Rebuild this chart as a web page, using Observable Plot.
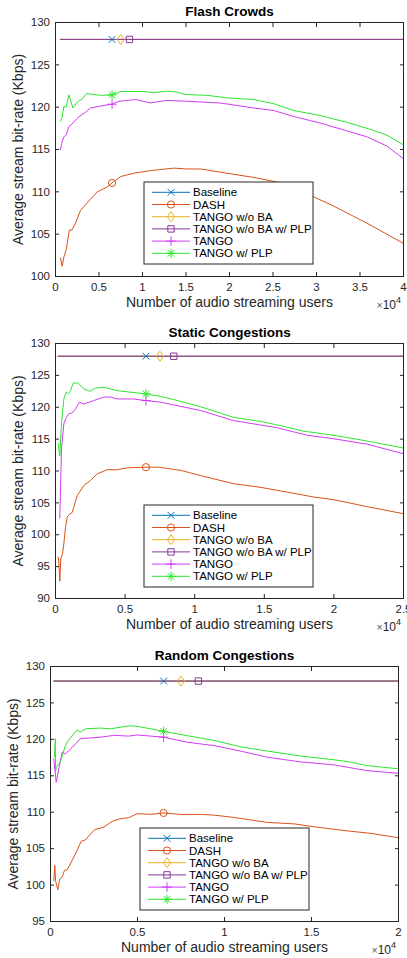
<!DOCTYPE html>
<html><head><meta charset="utf-8">
<script src="https://cdn.jsdelivr.net/npm/d3@7"></script>
<script src="https://cdn.jsdelivr.net/npm/@observablehq/plot@0.6"></script>
<style>
body{margin:0;background:#fff;font-family:"Liberation Sans",Arial,Helvetica,sans-serif}
#wrap{position:relative;width:407px;height:958px;overflow:hidden}
.panel{position:absolute;left:0}
</style>
</head><body><div id="wrap"></div>
<script>
// ---- series definitions ----
const seriesNames = ["Baseline","DASH","TANGO w/o BA","TANGO w/o BA w/ PLP","TANGO","TANGO w/ PLP"];
const seriesColors = ["#0072BD","#D95319","#EDB120","#86399A","#D23CF5","#2EE62E"];

// ---- Flash Crowds (x = users, y = Kbps) ----
const fcFlat = [[570,128],[40000,128]];
const fcDash = [[570,102.2],[770,101.2],[960,102.3],[1230,103.15],[1600,105.5],[1900,105.5],[2300,106.3],[2870,107.8],[3600,108.65],[4800,110.0],[5900,110.55],[6500,111.05],[7470,111.8],[9000,112.2],[10900,112.5],[13600,112.8],[15100,112.7],[16700,112.7],[19700,112.2],[22800,111.7],[25500,111.15],[29700,109.4],[32000,108.3],[35800,106.3],[40000,103.9]];
const fcTango = [[570,115.0],[700,115.7],[960,116.5],[1230,116.7],[1530,117.7],[1900,118.0],[2600,118.8],[3450,119.4],[4000,119.9],[5000,120.1],[6500,120.35],[7300,120.7],[9200,120.9],[10900,120.5],[12800,120.8],[15100,120.7],[18900,120.5],[22800,119.9],[25100,119.6],[27400,118.9],[30500,118.1],[33500,117.2],[35800,116.5],[38100,115.4],[40000,113.9]];
const fcPlp = [[570,118.35],[770,118.8],[960,120.1],[1230,120.0],[1530,121.45],[2000,119.9],[2500,120.6],[3100,121.0],[3560,121.6],[5170,121.4],[6500,121.45],[7470,121.85],[10150,121.85],[11300,121.7],[12800,121.9],[13900,121.8],[14900,121.5],[17400,121.4],[19700,121.1],[22800,120.9],[25100,120.4],[27400,119.6],[30500,119.0],[33500,118.2],[35800,117.5],[38100,116.7],[40000,115.55]];
const fcMarkers = [[0,6500,128],[1,6500,111.05],[2,7500,128],[3,8500,128],[4,6500,120.35],[5,6500,121.45]];

// ---- Static Congestions ----
const scFlat = [[190,128],[25000,128]];
const scDash = [[190,96.5],[240,95.7],[310,92.7],[380,96.2],[500,97.0],[600,98.6],[720,101.2],[840,102.75],[1000,103.2],[1200,103.5],[1560,106.15],[2030,107.7],[2500,108.5],[3000,109.55],[3700,110.2],[4430,110.2],[5150,110.5],[6500,110.6],[7400,110.6],[9000,110.1],[10400,109.3],[12800,108.0],[14700,107.45],[16600,106.7],[18600,105.9],[20000,105.5],[22400,104.4],[25000,103.3]];
const scTango = [[310,102.6],[430,113.5],[600,117.4],[770,118.4],[960,119.0],[1200,119.1],[1440,119.75],[1720,120.8],[2030,120.5],[2750,121.05],[3470,121.6],[3950,121.6],[4430,121.3],[5600,121.3],[6500,121.05],[7540,120.8],[10400,119.5],[12800,117.9],[15900,116.8],[18100,115.6],[20000,115.05],[22400,114.2],[25000,112.7]];
const scPlp = [[190,114.3],[310,112.4],[430,117.4],[600,121.3],[770,122.4],[910,122.1],[1080,122.6],[1270,123.8],[1600,123.8],[2030,122.9],[2460,122.5],[2870,123.0],[3470,123.15],[4430,122.6],[6500,122.1],[7540,121.7],[8500,121.2],[10400,120.1],[12800,118.4],[14700,117.8],[16400,117.0],[17800,116.25],[20000,115.6],[22400,114.7],[25000,113.6]];
const scMarkers = [[0,6500,128],[1,6500,110.6],[2,7500,128],[3,8500,128],[4,6500,121.05],[5,6500,122.1]];

// ---- Random Congestions ----
const rcFlat = [[190,128],[20000,128]];
const rcDash = [[190,100.6],[250,102.7],[290,100.6],[420,99.35],[530,100.85],[670,101.1],[800,102.0],[960,102.1],[1250,103.4],[1530,104.75],[1760,106.0],[2000,106.2],[2530,107.6],[3060,107.95],[3550,108.75],[4000,109.1],[4500,109.25],[4980,109.8],[5750,109.7],[6500,109.9],[7470,109.7],[8620,109.7],[9400,109.6],[10500,109.3],[12450,108.6],[14000,108.4],[15300,107.95],[17200,107.4],[18400,107.1],[20000,106.5]];
const rcTango = [[190,117.3],[330,114.1],[480,116.0],[670,118.25],[860,118.0],[1250,118.9],[1720,120.1],[2870,120.3],[3640,120.55],[4500,120.45],[4980,120.6],[6500,120.3],[7860,119.6],[9400,119.15],[10900,118.4],[12450,117.55],[14400,116.9],[16300,116.5],[18200,115.7],[20000,115.35]];
const rcPlp = [[230,117.6],[280,120.1],[290,115.5],[330,116.2],[560,116.9],[860,119.15],[1050,119.95],[1530,121.3],[1720,121.0],[2010,121.45],[2870,121.55],[3450,121.45],[4500,121.85],[4980,121.8],[6500,121.1],[7860,120.5],[9400,119.85],[10900,119.0],[12450,118.4],[14400,117.7],[16300,117.2],[17200,116.9],[18200,116.4],[20000,115.95]];
const rcMarkers = [[0,6500,128],[1,6500,109.9],[2,7500,128],[3,8500,128],[4,6500,120.3],[5,6500,121.1]];

// ---- axis ticks ----
const fcXTicks = [0,5000,10000,15000,20000,25000,30000,35000,40000];
const fcYTicks = [100,105,110,115,120,125,130];
const scXTicks = [0,5000,10000,15000,20000,25000];
const scYTicks = [90,95,100,105,110,115,120,125,130];
const rcXTicks = [0,5000,10000,15000,20000];
const rcYTicks = [95,100,105,110,115,120,125,130];

const yLabel = "Average stream bit-rate (Kbps)";
const xLabel = "Number of audio streaming users";

// ---- marker symbols (MATLAB style) ----
const symTimes = {draw(c){const a=3.4;c.moveTo(-a,-a);c.lineTo(a,a);c.moveTo(-a,a);c.lineTo(a,-a);}};
const symCircle = {draw(c){const r=3.6;c.moveTo(r,0);c.arc(0,0,r,0,2*Math.PI);}};
const symDiamond = {draw(c){const w=3.6,h=5;c.moveTo(0,-h);c.lineTo(w,0);c.lineTo(0,h);c.lineTo(-w,0);c.closePath();}};
const symSquare = {draw(c){const a=3.2;c.moveTo(-a,-a);c.lineTo(a,-a);c.lineTo(a,a);c.lineTo(-a,a);c.closePath();}};
const symPlus = {draw(c){const a=4.8;c.moveTo(-a,0);c.lineTo(a,0);c.moveTo(0,-a);c.lineTo(0,a);}};
const symStar = {draw(c){const a=4.6,b=a*0.72;c.moveTo(-a,0);c.lineTo(a,0);c.moveTo(0,-a);c.lineTo(0,a);c.moveTo(-b,-b);c.lineTo(b,b);c.moveTo(-b,b);c.lineTo(b,-b);}};
const seriesSymbols = [symTimes,symCircle,symDiamond,symSquare,symPlus,symStar];

const panels = [
  {title:"Flash Crowds", top:0, ml:55, mr:4, frameH:254, xMax:40000, yDom:[100,130], xTicks:fcXTicks, yTicks:fcYTicks,
   series:[fcFlat,fcDash,fcFlat,fcFlat,fcTango,fcPlp], markers:fcMarkers, leg:[89,160]},
  {title:"Static Congestions", top:321, ml:55, mr:4, frameH:255, xMax:25000, yDom:[90,130], xTicks:scXTicks, yTicks:scYTicks,
   series:[scFlat,scDash,scFlat,scFlat,scTango,scPlp], markers:scMarkers, leg:[89,162]},
  {title:"Random Congestions", top:644, ml:50, mr:9, frameH:255, xMax:20000, yDom:[95,130], xTicks:rcXTicks, yTicks:rcYTicks,
   series:[rcFlat,rcDash,rcFlat,rcFlat,rcTango,rcPlp], markers:rcMarkers, leg:[90,162]}
];

const FONT = '"Liberation Sans", Arial, Helvetica, sans-serif';
const AX = "#262626";
const wrap = document.getElementById("wrap");

for (const p of panels) {
  const mt = 22, mb = 36;
  const marks = [];
  p.series.forEach((s, i) => {
    marks.push(Plot.line(s, {x: d => d[0], y: d => d[1], stroke: seriesColors[i], strokeWidth: 1}));
  });
  p.series.forEach((s, i) => {
    marks.push(Plot.dot(p.markers.filter(m => m[0] === i), {x: d => d[1], y: d => d[2], symbol: seriesSymbols[i], r: 4, stroke: seriesColors[i], fill: "none", strokeWidth: 1}));
  });
  marks.push(
    Plot.axisX({anchor: "bottom", ticks: p.xTicks, tickSize: -4, tickPadding: 10, tickFormat: d => d / 1e4, label: null, stroke: AX, fill: AX}),
    Plot.axisX({anchor: "top", ticks: p.xTicks, tickSize: -4, tickFormat: () => "", label: null, stroke: AX}),
    Plot.axisY({anchor: "left", ticks: p.yTicks, tickSize: -4, tickPadding: 9.5, label: null, stroke: AX, fill: AX}),
    Plot.axisY({anchor: "right", ticks: p.yTicks, tickSize: -4, tickFormat: () => "", label: null, stroke: AX}),
    Plot.frame({stroke: AX, strokeWidth: 1}),
    Plot.text([p.title], {frameAnchor: "top", dy: -11, lineAnchor: "middle", textAnchor: "middle", fontWeight: "bold", fontSize: 13.5, fill: "#000"}),
    Plot.text([yLabel], {frameAnchor: "left", rotate: -90, dx: -37, lineAnchor: "middle", textAnchor: "middle", fontSize: 14, fill: AX}),
    Plot.text([xLabel], {frameAnchor: "bottom", dy: 26, lineAnchor: "middle", textAnchor: "middle", fontSize: 14, fill: AX})
  );
  const svg = Plot.plot({
    width: 407,
    height: mt + p.frameH + mb,
    marginTop: mt, marginBottom: mb, marginLeft: p.ml, marginRight: p.mr,
    x: {domain: [0, p.xMax]},
    y: {domain: p.yDom},
    style: {fontFamily: FONT, fontSize: "11.5px", color: AX, background: "white"},
    marks
  });
  const root = d3.select(svg);
  // x10^4 exponent label
  const fr = 407 - p.mr, fb = mt + p.frameH;
  const ex = root.append("text").attr("x", fr - 2).attr("y", fb + 33).attr("text-anchor", "end")
    .attr("fill", AX).attr("font-family", FONT);
  ex.append("tspan").attr("font-size", 10.5).attr("fill", "#555").text("×");
  ex.append("tspan").attr("font-size", 12).text("10");
  ex.append("tspan").attr("font-size", 9).attr("dy", -6).text("4");
  // legend (opaque box inside plot)
  const g = root.append("g").attr("transform", `translate(${p.ml + p.leg[0]},${mt + p.leg[1]})`);
  g.append("rect").attr("width", 169).attr("height", 82).attr("fill", "white").attr("stroke", AX).attr("stroke-width", 1);
  seriesNames.forEach((name, i) => {
    const y = 10.3 + i * 12.2;
    g.append("line").attr("x1", 8).attr("x2", 46).attr("y1", y).attr("y2", y).attr("stroke", seriesColors[i]).attr("stroke-width", 1);
    const path = d3.path(); seriesSymbols[i].draw(path, 0);
    g.append("path").attr("transform", `translate(27,${y})`).attr("d", path.toString()).attr("stroke", seriesColors[i]).attr("fill", "none");
    g.append("text").attr("x", 49).attr("y", y).attr("dy", "0.35em").attr("text-anchor", "start").attr("font-size", 11.5).attr("font-family", FONT).attr("fill", "#000").text(name);
  });
  const div = document.createElement("div");
  div.className = "panel";
  div.style.top = p.top + "px";
  div.appendChild(svg);
  wrap.appendChild(div);
}
</script>
</body></html>
